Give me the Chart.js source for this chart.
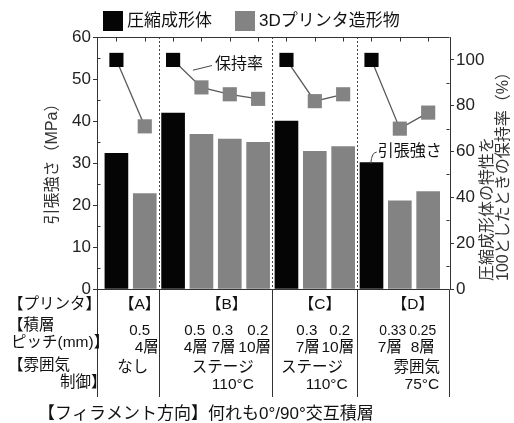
<!DOCTYPE html>
<html><head><meta charset="utf-8">
<script src="https://cdn.jsdelivr.net/npm/chart.js@4"></script>
<style>html,body{margin:0;padding:0;background:#fff}</style>
</head><body>
<canvas id="c" width="514" height="423"></canvas>
<script>
// ---------- data ----------
const groups = ['【A】', '【B】', '【C】', '【D】'];
const groupSizes = [2, 4, 3, 3];
const seriesNames = ['圧縮成形体', '3Dプリンタ造形物'];
const xCompressed = [0, 2, 6, 9];
const compressedStrength = [32.3, 41.9, 40.0, 30.1];
const xPrinted = [1, 3, 4, 5, 7, 8, 10, 11];
const printedStrength = [22.7, 36.8, 35.7, 34.9, 32.8, 33.9, 21.0, 23.2];
const retentionX = [[0, 1], [2, 3, 4, 5], [6, 7, 8], [9, 10, 11]];
const retention = [[100, 71], [100, 88, 85, 83], [100, 82, 85], [100, 70, 77]];
const leftTicks = [0, 10, 20, 30, 40, 50, 60];
const rightTicks = [0, 20, 40, 60, 80, 100];
const rowHeaders = ['【プリンタ】', '【積層', 'ピッチ(mm)】', '【雰囲気', '制御】'];
const pitchValues = [['0.5'], ['0.5', '0.3', '0.2'], ['0.3', '0.2'], ['0.33', '0.25']];
const layerCounts = [['4層'], ['4層', '7層', '10層'], ['7層', '10層'], ['7層', '8層']];
const atmosphere = [['なし'], ['ステージ', '110°C'], ['ステージ', '110°C'], ['雰囲気', '75°C']];
const footnote = '【フィラメント方向】何れも0°/90°交互積層';
const leftTitle = '引張強さ（MPa）';
const rightTitle = ['圧縮成形体の特性を', '100としたときの保持率（%）'];
const noteRetention = '保持率';
const noteStrength = '引張強さ';

// ---------- style / layout ----------
const BLACK = '#050505', GRAY = '#838383', AX = '#333';
const F = '"Liberation Sans", "Noto Sans CJK JP", sans-serif';
const groupBounds = [];
{ let c = 0; groupSizes.forEach(n => { c += n; groupBounds.push(c - 0.5); }); }
// table text x-positions in x-scale units
const posPrinter = [0.82, 3.89, 7.18, 10.46];
const posPitch = [[0.82], [2.76, 3.75, 4.99], [6.72, 7.88], [9.75, 10.81]];
const posLayer = [[1.07], [2.80, 3.78, 4.88], [6.75, 7.81], [9.65, 10.81]];
const posAtm = [[[0.58]], [[3.75], [4.11]], [[6.90], [7.42]], [[10.60], [10.78]]];

const lineDatasets = retention.map((vals, g) => ({
  type: 'line', yAxisID: 'y2',
  data: vals.map((v, i) => ({ x: retentionX[g][i], y: v })),
  borderColor: '#5a5a5a', borderWidth: 1.3,
  pointStyle: 'rect', pointRadius: 10, pointBorderWidth: 0,
  pointBackgroundColor: vals.map((v, i) => i === 0 ? BLACK : GRAY),
  pointHoverRadius: 10
}));

const deco = {
  id: 'deco',
  beforeDatasetsDraw(chart) {
    const { ctx, chartArea: a, scales: { x } } = chart;
    ctx.save();
    ctx.strokeStyle = '#444'; ctx.lineWidth = 1; ctx.setLineDash([2, 2]);
    groupBounds.slice(0, -1).forEach(v => {
      const px = Math.round(x.getPixelForValue(v)) + 0.5;
      ctx.beginPath(); ctx.moveTo(px, a.top); ctx.lineTo(px, a.bottom); ctx.stroke();
    });
    ctx.restore();
  },
  afterDraw(chart) {
    const { ctx, chartArea: a, scales: { x, y, y2 } } = chart;
    const L = Math.round(a.left) + 0.5, R = Math.round(a.right) - 0.5;
    const T = Math.round(a.top) + 0.5, B = Math.round(a.bottom) + 0.5;
    ctx.save();
    ctx.strokeStyle = AX; ctx.lineWidth = 1;
    const ln = (x1, y1, x2, y2_) => { ctx.beginPath(); ctx.moveTo(x1, y1); ctx.lineTo(x2, y2_); ctx.stroke(); };
    // box top & bottom
    ln(L, T, R, T); ln(L, B, R, B);
    // top ticks at bars
    for (let i = 0; i < 12; i++) { const px = Math.round(x.getPixelForValue(i)) + 0.5; ln(px, T, px, T + 4); }
    // minor ticks inward
    for (let v = 5; v < 60; v += 10) { const py = Math.round(y.getPixelForValue(v)) + 0.5; ln(L, py, L + 3, py); }
    for (let v = 10; v < 110; v += 20) { const py = Math.round(y2.getPixelForValue(v)) + 0.5; ln(R, py, R - 3, py); }
    // table vertical lines
    const tableBottom = 397;
    [L, R].concat(groupBounds.slice(0, -1).map(v => Math.round(x.getPixelForValue(v)) + 0.5)).forEach(px => ln(px, B, px, tableBottom));

    // legend
    ctx.textBaseline = 'middle'; ctx.textAlign = 'left';
    ctx.font = '17px ' + F; ctx.fillStyle = '#111';
    const legX = [103, 235];
    chart.data.datasets.slice(0, 2).forEach((d, i) => {
      ctx.fillStyle = d.backgroundColor; ctx.fillRect(legX[i], 11, 20, 20);
      ctx.fillStyle = '#111'; ctx.fillText(d.label, legX[i] + 24, 21);
    });

    // axis titles
    ctx.fillStyle = '#333'; ctx.font = '16px ' + F;
    ctx.save(); ctx.translate(53, 160); ctx.rotate(-Math.PI / 2);
    ctx.textAlign = 'center'; ctx.fillText(leftTitle, 0, 0); ctx.restore();
    ctx.save(); ctx.translate(488, 281); ctx.rotate(-Math.PI / 2);
    ctx.textAlign = 'left'; ctx.fillText(rightTitle[0], 0, 0); ctx.fillText(rightTitle[1], 0, 16); ctx.restore();

    // annotations
    ctx.fillStyle = '#111'; ctx.font = '16px ' + F; ctx.textAlign = 'left';
    const rx = x.getPixelForValue(3.48), ry = y2.getPixelForValue(98);
    ctx.fillText(noteRetention, rx, ry);
    ctx.strokeStyle = '#444';
    ln(x.getPixelForValue(2.70), y2.getPixelForValue(95.5), rx - 3, ry + 1);
    const sx = x.getPixelForValue(9.22), sy = y.getPixelForValue(32.6);
    ctx.fillText(noteStrength, sx, sy);
    ctx.beginPath(); ctx.moveTo(sx - 7, y.getPixelForValue(30.1) + 1);
    ctx.quadraticCurveTo(sx - 6, sy, sx - 1, sy); ctx.stroke();

    // table
    ctx.fillStyle = '#111'; ctx.font = '15.5px ' + F; ctx.textAlign = 'left';
    ctx.fillText(rowHeaders[0], 8, 305);
    ctx.fillText(rowHeaders[1], 8, 326);
    ctx.fillText(rowHeaders[2], 11, 343);
    ctx.fillText(rowHeaders[3], 8, 366);
    ctx.fillText(rowHeaders[4], 60, 383);
    ctx.textAlign = 'center';
    groups.forEach((g, i) => {
      ctx.fillText(g, x.getPixelForValue(posPrinter[i]), 305);
      pitchValues[i].forEach((t, j) => ctx.fillText(t, x.getPixelForValue(posPitch[i][j]), 331, t.length > 3 ? 27 : 21));
      layerCounts[i].forEach((t, j) => ctx.fillText(t, x.getPixelForValue(posLayer[i][j]), 348));
      atmosphere[i].forEach((t, j) => ctx.fillText(t, x.getPixelForValue(posAtm[i][j][0]), j === 0 ? 368 : 385));
    });
    ctx.textAlign = 'left'; ctx.font = '17px ' + F;
    ctx.fillText(footnote, 38, 414);
    ctx.restore();
  }
};

new Chart(document.getElementById('c'), {
  type: 'bar',
  data: {
    datasets: [
      { label: seriesNames[0], data: xCompressed.map((v, i) => ({ x: v, y: compressedStrength[i] })),
        backgroundColor: BLACK, yAxisID: 'y', grouped: false, barThickness: 23 },
      { label: seriesNames[1], data: xPrinted.map((v, i) => ({ x: v, y: printedStrength[i] })),
        backgroundColor: GRAY, yAxisID: 'y', grouped: false, barThickness: 23 },
      ...lineDatasets
    ]
  },
  options: {
    responsive: false, animation: false,
    layout: { padding: { top: 37, bottom: 134, left: 0, right: 0 } },
    plugins: { legend: { display: false }, tooltip: { enabled: false } },
    scales: {
      x: { type: 'linear', offset: false, min: -0.685, max: 11.77, display: false },
      y: {
        position: 'left', min: 0, max: 60,
        afterBuildTicks(s) { s.ticks = leftTicks.map(v => ({ value: v })); },
        ticks: { font: { size: 17, family: F }, color: '#222', padding: 2 },
        grid: { drawOnChartArea: false, tickLength: 4, color: AX },
        border: { color: AX },
        afterFit(s) { s.width = 97; }
      },
      y2: {
        position: 'right', min: 0, max: 110,
        afterBuildTicks(s) { s.ticks = rightTicks.map(v => ({ value: v })); },
        ticks: { font: { size: 17, family: F }, color: '#222', padding: 2 },
        grid: { drawOnChartArea: false, tickLength: 4, color: AX },
        border: { color: AX },
        afterFit(s) { s.width = 64; }
      }
    }
  },
  plugins: [deco]
});
</script>
</body></html>
